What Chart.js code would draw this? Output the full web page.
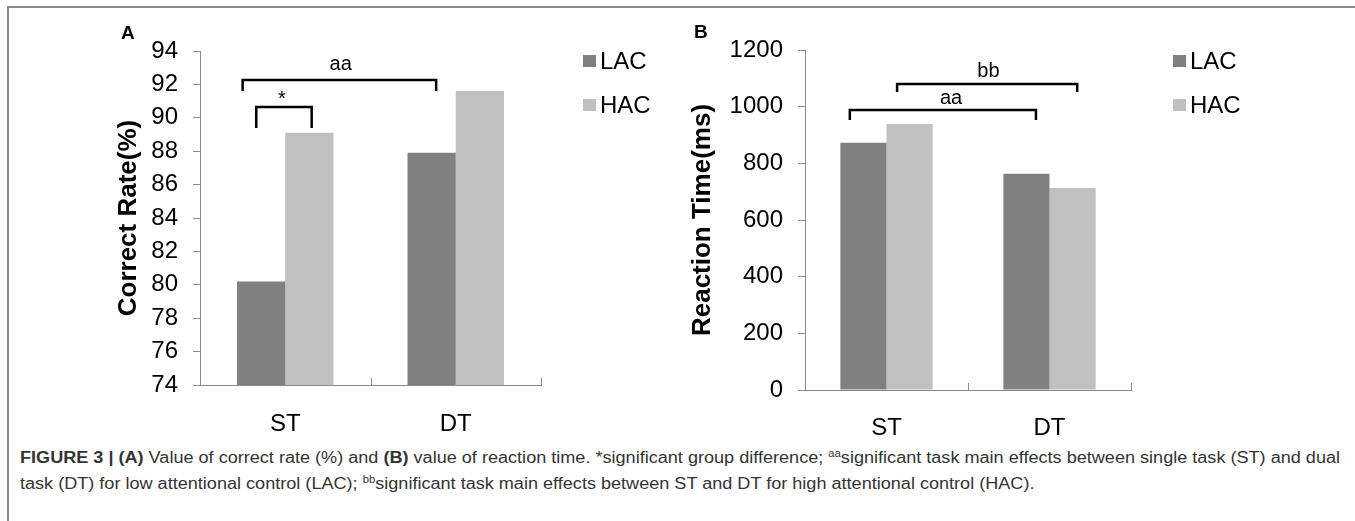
<!DOCTYPE html>
<html>
<head>
<meta charset="utf-8">
<script src="https://cdn.jsdelivr.net/npm/chart.js@4.4.0/dist/chart.umd.min.js"></script>
<style>
  body { margin: 0; background: #fff; font-family: 'Liberation Sans', Arial, sans-serif; }
  #frame { position: absolute; left: 7px; top: 6px; width: 1348px; height: 515px; border-top: 2px solid #8a8a8a; border-left: 2px solid #8a8a8a; }
  .panel { position: absolute; top: 0; height: 440px; }
  .tag { position: absolute; font-weight: bold; font-size: 19px; line-height: 1; }
  .leg { position: absolute; font-size: 24px; line-height: 1; white-space: nowrap; }
  .leg i { display: inline-block; width: 13px; height: 12px; margin-right: 4px; vertical-align: 2px; }
  #caption { position: absolute; left: 20px; top: 445px; font-size: 16px; line-height: 26px; color: #333; white-space: nowrap; transform: scaleX(1.13); transform-origin: 0 0; }
  #caption sup { font-size: 10px; line-height: 0; vertical-align: 6px; }
</style>
</head>
<body>
<div id="frame"></div>
<div class="panel" style="left:0;width:680px"><canvas id="chartA"></canvas></div>
<div class="panel" style="left:680px;width:675px"><canvas id="chartB"></canvas></div>
<div class="tag" style="left:121px;top:23px">A</div>
<div class="tag" style="left:694px;top:22px">B</div>
<div class="leg" style="left:583px;top:49px"><i style="background:#808080"></i>LAC</div>
<div class="leg" style="left:583px;top:93px"><i style="background:#c0c0c0"></i>HAC</div>
<div class="leg" style="left:1173px;top:49px"><i style="background:#808080"></i>LAC</div>
<div class="leg" style="left:1173px;top:93px"><i style="background:#c0c0c0"></i>HAC</div>
<div id="caption"><b>FIGURE 3 | (A)</b> Value of correct rate (%) and <b>(B)</b> value of reaction time. *significant group difference; <sup>aa</sup>significant task main effects between single task (ST) and dual<br>task (DT) for low attentional control (LAC); <sup>bb</sup>significant task main effects between ST and DT for high attentional control (HAC).</div>
<script>
const tasks = ['ST', 'DT']
const groups = ['LAC', 'HAC']

// panel A: correct rate (%)
const correctLAC = [80.2, 87.9]
const correctHAC = [89.1, 91.6]
const correctTicks = [74, 94, 2]

// panel B: reaction time (ms)
const rtLAC = [873, 763]
const rtHAC = [939, 713]
const rtTicks = [0, 1200, 200]

// significance brackets: category from/to, y of top bar and of the ends, text spot
const bracketsA = [
  { from: -0.25, to: 0.885, top: 92.26, end: 91.6, label: 'aa', tx: 0.325, ty: 92.86 },
  { from: -0.17, to: 0.155, top: 90.65, end: 89.39, label: '*', tx: -0.02, ty: 90.75 }
]
const bracketsB = [
  { from: 0.065, to: 1.17, top: 1080, end: 1052, label: 'bb', tx: 0.625, ty: 1105 },
  { from: -0.225, to: 0.917, top: 988, end: 953, label: 'aa', tx: 0.396, ty: 1009 }
]

const colors = ['#808080', '#c0c0c0']
const axisGray = '#8a8a8a'

const extras = {
  id: 'extras',
  afterDatasetsDraw (chart, args, opts) {
    const { ctx } = chart
    const x = chart.scales.x
    const y = chart.scales.y
    ctx.save()
    // small upward ticks between categories
    ctx.strokeStyle = axisGray
    ctx.lineWidth = 1
    for (let i = 0; i < tasks.length; i++) {
      const px = Math.round(x.getPixelForValue(i + 0.5)) + 0.5
      ctx.beginPath()
      ctx.moveTo(px, y.bottom)
      ctx.lineTo(px, y.bottom - 7)
      ctx.stroke()
    }
    ctx.strokeStyle = '#000'
    ctx.fillStyle = '#000'
    ctx.lineWidth = 2.5
    ctx.font = '20px "Liberation Sans", Arial'
    ctx.textAlign = 'center'
    ctx.textBaseline = 'alphabetic'
    opts.items.forEach(b => {
      const x1 = x.getPixelForValue(b.from)
      const x2 = x.getPixelForValue(b.to)
      const yt = y.getPixelForValue(b.top)
      const yb = y.getPixelForValue(b.end)
      ctx.beginPath()
      ctx.moveTo(x1, yb)
      ctx.lineTo(x1, yt)
      ctx.lineTo(x2, yt)
      ctx.lineTo(x2, yb)
      ctx.stroke()
      ctx.fillText(b.label, x.getPixelForValue(b.tx), y.getPixelForValue(b.ty))
    })
    ctx.restore()
  }
}

function makeChart (id, lac, hac, ticks, title, brackets, box) {
  return new Chart(document.getElementById(id), {
    type: 'bar',
    data: {
      labels: tasks,
      datasets: [
        { label: groups[0], data: lac, backgroundColor: colors[0] },
        { label: groups[1], data: hac, backgroundColor: colors[1] }
      ]
    },
    options: {
      responsive: true,
      maintainAspectRatio: false,
      animation: false,
      layout: { padding: { left: 0, right: box.right, top: box.top, bottom: 0 } },
      datasets: { bar: { categoryPercentage: 0.566, barPercentage: 1 } },
      scales: {
        x: {
          grid: { display: false },
          border: { display: true, color: axisGray, width: 1 },
          ticks: { color: '#000', font: { size: 24, family: '"Liberation Sans", Arial' }, padding: box.xpad },
          afterFit: s => { s.height = box.xh }
        },
        y: {
          min: ticks[0],
          max: ticks[1],
          ticks: {
            stepSize: ticks[2],
            color: '#000',
            font: { size: 24, family: '"Liberation Sans", Arial' },
            padding: 15,
            callback: v => String(v)
          },
          grid: { drawOnChartArea: false, tickLength: 7, color: axisGray },
          border: { display: true, color: axisGray, width: 1 },
          title: {
            display: true,
            text: title,
            color: '#000',
            font: { size: 26, weight: 'bold', family: '"Liberation Sans", Arial' },
            padding: { top: box.tpad, bottom: 0 }
          },
          afterFit: s => { s.width = box.yw }
        }
      },
      plugins: {
        legend: { display: false },
        tooltip: { enabled: false },
        extras: { items: brackets }
      }
    },
    plugins: [extras]
  })
}

makeChart('chartA', correctLAC, correctHAC, correctTicks, 'Correct Rate(%)', bracketsA,
  { yw: 200, right: 139, top: 51, xh: 55, xpad: 17, tpad: 113 })
makeChart('chartB', rtLAC, rtHAC, rtTicks, 'Reaction Time(ms)', bracketsB,
  { yw: 125, right: 224, top: 50, xh: 50, xpad: 16, tpad: 7 })
</script>
</body>
</html>
